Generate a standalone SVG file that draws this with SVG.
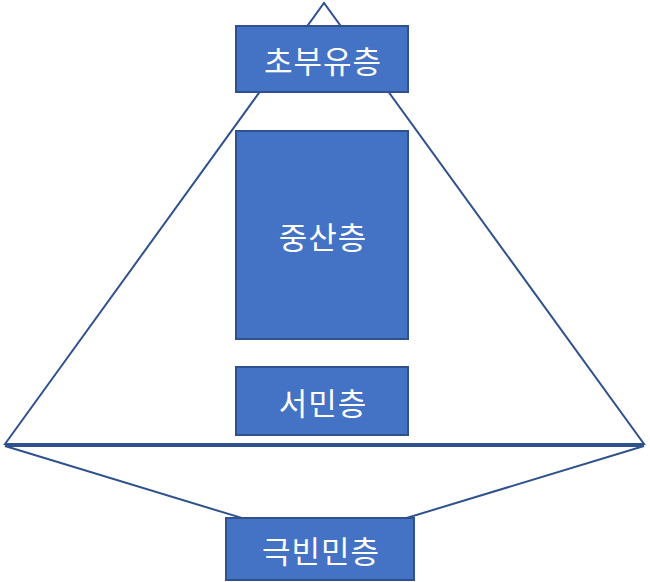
<svg xmlns="http://www.w3.org/2000/svg" width="650" height="582" viewBox="0 0 650 582">
<style>
.box{fill:#4472C4;stroke:#2F528F;stroke-width:2}
.lbl{fill:#FFFFFF;font-family:"Noto Sans CJK KR","Noto Sans",sans-serif;font-size:31px;letter-spacing:1px;text-anchor:middle;dominant-baseline:central}
.tri{fill:none;stroke:#2F528F;stroke-width:2;stroke-linejoin:miter}
</style>
<rect width="650" height="582" fill="#FFFFFF"/>
<g id="connectors">
<polygon class="tri" points="5,444 324,3 644,444"/>
<polygon class="tri" points="5,446 644,446 324,543"/>
</g>
<g id="node-top">
<rect class="box" x="236" y="26" width="172" height="66"/>
<text class="lbl" x="323" y="59">초부유층</text>
</g>
<g id="node-middle">
<rect class="box" x="236" y="131" width="172" height="208"/>
<text class="lbl" x="323" y="235">중산층</text>
</g>
<g id="node-low">
<rect class="box" x="236" y="367" width="172" height="68"/>
<text class="lbl" x="323" y="401">서민층</text>
</g>
<g id="node-poor">
<rect class="box" x="226" y="518" width="188" height="62"/>
<text class="lbl" x="321" y="549">극빈민층</text>
</g>
</svg>
